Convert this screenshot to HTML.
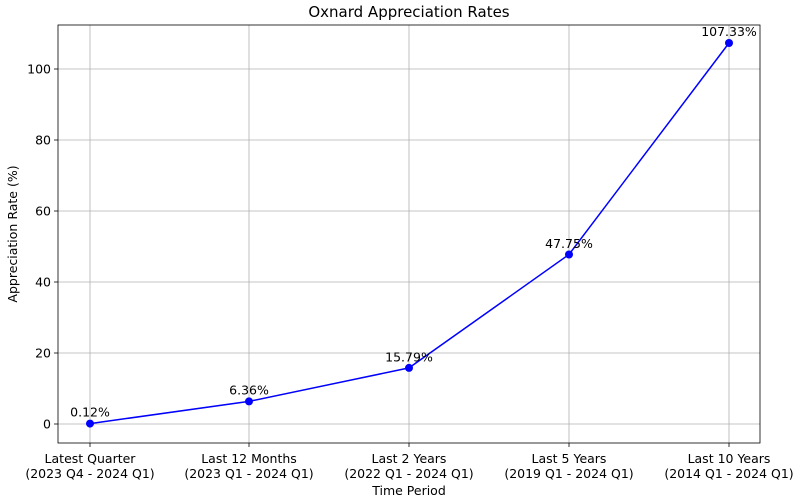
<!DOCTYPE html>
<html><head><style>body{margin:0;background:#fff}svg{display:block;font-family:"DejaVu Sans","Liberation Sans",sans-serif}</style></head><body>
<svg width="800" height="498" viewBox="0 0 800 498" xmlns="http://www.w3.org/2000/svg">
<rect width="800" height="498" fill="#fff"/>
<g stroke="#b0b0b0" stroke-width="0.8">
<line x1="90" y1="25" x2="90" y2="443"/><line x1="249" y1="25" x2="249" y2="443"/><line x1="409" y1="25" x2="409" y2="443"/><line x1="569" y1="25" x2="569" y2="443"/><line x1="729" y1="25" x2="729" y2="443"/>
<line x1="58" y1="424" x2="760" y2="424"/><line x1="58" y1="353" x2="760" y2="353"/><line x1="58" y1="282" x2="760" y2="282"/><line x1="58" y1="211" x2="760" y2="211"/><line x1="58" y1="140" x2="760" y2="140"/><line x1="58" y1="69" x2="760" y2="69"/>
</g>
<rect x="58" y="25" width="702" height="418" fill="none" stroke="#000" stroke-width="0.8"/>
<g stroke="#000" stroke-width="0.8">
<line x1="54" y1="424" x2="58" y2="424"/><line x1="54" y1="353" x2="58" y2="353"/><line x1="54" y1="282" x2="58" y2="282"/><line x1="54" y1="211" x2="58" y2="211"/><line x1="54" y1="140" x2="58" y2="140"/><line x1="54" y1="69" x2="58" y2="69"/>
<line x1="90" y1="443" x2="90" y2="447"/><line x1="249" y1="443" x2="249" y2="447"/><line x1="409" y1="443" x2="409" y2="447"/><line x1="569" y1="443" x2="569" y2="447"/><line x1="729" y1="443" x2="729" y2="447"/>
</g>
<g font-size="12.5" text-anchor="end" fill="#000">
<text x="51" y="428.5">0</text><text x="51" y="357.5">20</text><text x="51" y="286.5">40</text><text x="51" y="215.5">60</text><text x="51" y="144.5">80</text><text x="51" y="73.5">100</text>
</g>
<g font-size="12.5" text-anchor="middle" fill="#000">
<text x="90" y="463">Latest Quarter</text><text x="90" y="478">(2023 Q4 - 2024 Q1)</text>
<text x="249" y="463">Last 12 Months</text><text x="249" y="478">(2023 Q1 - 2024 Q1)</text>
<text x="409" y="463">Last 2 Years</text><text x="409" y="478">(2022 Q1 - 2024 Q1)</text>
<text x="569" y="463">Last 5 Years</text><text x="569" y="478">(2019 Q1 - 2024 Q1)</text>
<text x="729" y="463">Last 10 Years</text><text x="729" y="478">(2014 Q1 - 2024 Q1)</text>
<text x="409" y="495">Time Period</text>
<text x="409" y="17" font-size="15">Oxnard Appreciation Rates</text>
<text transform="translate(17,234) rotate(-90)">Appreciation Rate (%)</text>
</g>
<polyline points="90,423.6 249,401.4 409,367.9 569,254.5 729,43" fill="none" stroke="#0000ff" stroke-width="1.5"/>
<g fill="#0000ff"><circle cx="90" cy="423.6" r="4"/><circle cx="249" cy="401.4" r="4"/><circle cx="409" cy="367.9" r="4"/><circle cx="569" cy="254.5" r="4"/><circle cx="729" cy="43" r="4"/></g>
<g font-size="12.5" text-anchor="middle" fill="#000">
<text x="90" y="416.5">0.12%</text><text x="249" y="394.5">6.36%</text><text x="409" y="361.5">15.79%</text><text x="569" y="248">47.75%</text><text x="729" y="36">107.33%</text>
</g>
</svg>
</body></html>
